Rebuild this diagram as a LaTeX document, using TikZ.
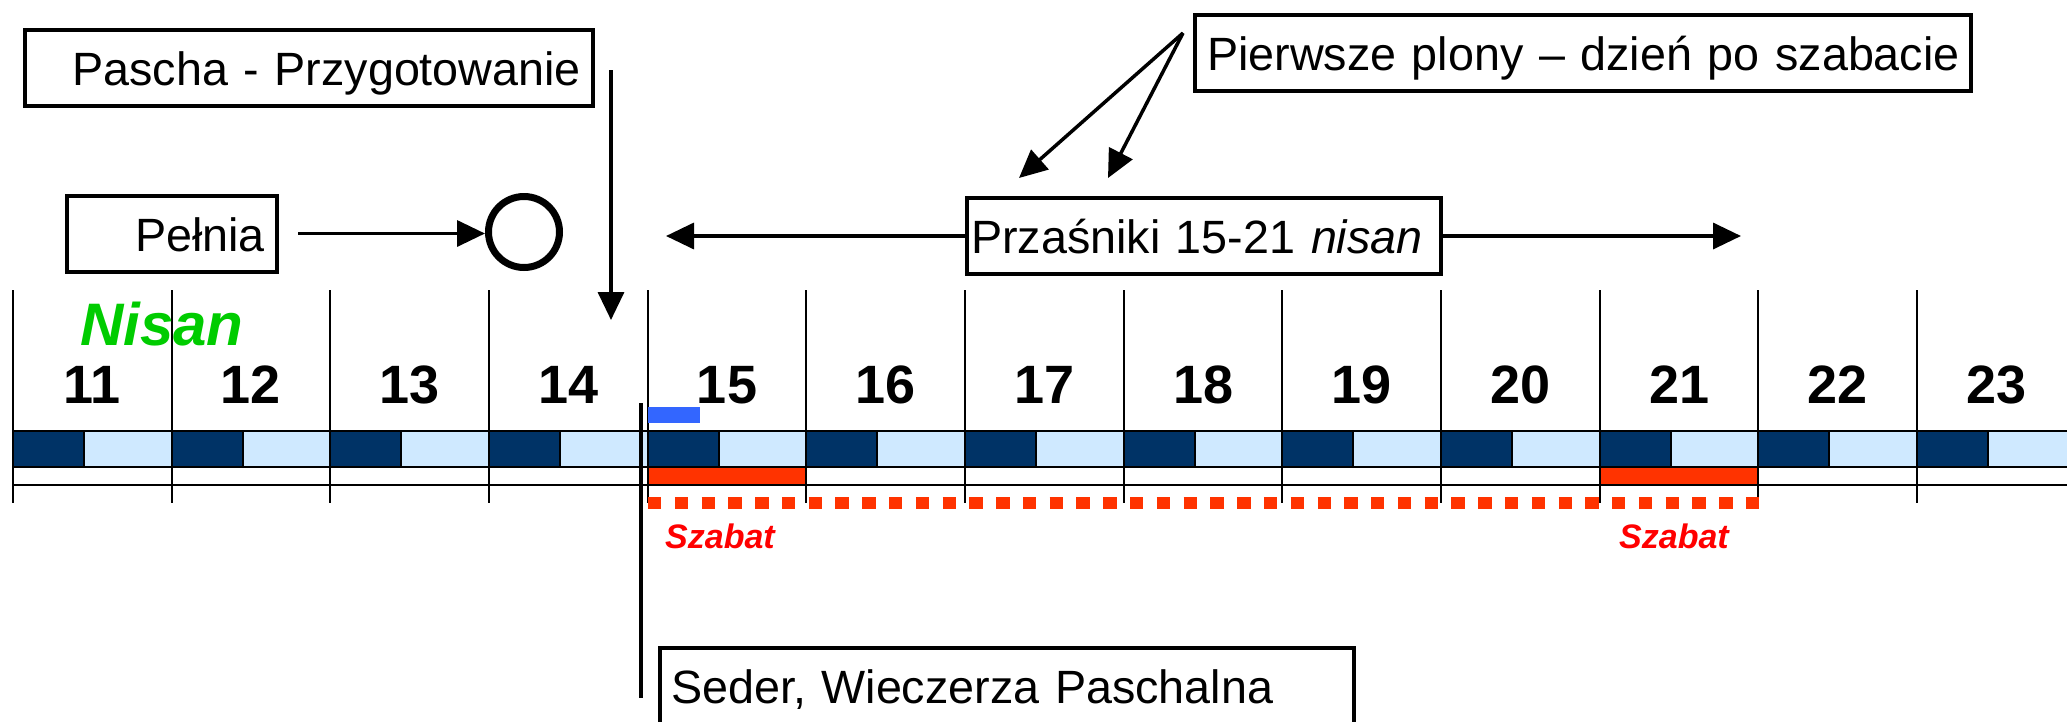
\documentclass[tikz,border=0pt]{standalone}
\usepackage{fontspec}
\setmainfont{Liberation Sans}
\usetikzlibrary{arrows.meta}
\definecolor{darkcell}{HTML}{003366}
\definecolor{lightcell}{HTML}{CFE9FF}
\definecolor{redbar}{HTML}{FF3300}
\definecolor{redtext}{HTML}{FF0000}
\definecolor{bluebar}{HTML}{3366FF}
\definecolor{nisangreen}{HTML}{00CC00}
\begin{document}
\begin{tikzpicture}[x=1pt,y=-1pt,
  box/.style={draw, line width=4pt, minimum height=76pt, text height=35pt, text depth=0pt,
    inner ysep=0pt, font=\fontsize{46.7}{56}\selectfont},
  arr/.style={line width=3.5pt, -{Triangle[length=28pt,width=26pt]}},
  gridline/.style={line width=2pt},
  barline/.style={line width=2.5pt},
  num/.style={anchor=base, inner sep=0pt, font=\bfseries\fontsize{54}{60}\selectfont},
  szabat/.style={anchor=base, inner sep=0pt, text=redtext, font=\bfseries\itshape\fontsize{34}{40}\selectfont}]
\useasboundingbox (0,0) rectangle (2067,721);

% day bar cells
\foreach \k in {0,...,12} {
  \pgfmathsetmacro\xa{13+158.67*\k}
  \fill[darkcell] (\xa,431) rectangle (\xa+71,467);
  \fill[lightcell] (\xa+71,431) rectangle (\xa+158.67,467);
  \draw[gridline] (\xa+71,431) -- (\xa+71,467);
}
% sabbath bars
\fill[redbar] (648,468) rectangle (807,484);
\fill[redbar] (1600,468) rectangle (1759,484);
% horizontal lines
\draw[barline] (13,431) -- (2067,431);
\draw[barline] (13,467) -- (2067,467);
\draw[barline] (13,485) -- (2067,485);
% grid lines and numbers
\foreach \k in {0,...,12} {
  \pgfmathsetmacro\xa{13+158.67*\k}
  \pgfmathtruncatemacro\n{11+\k}
  \draw[gridline] (\xa,290) -- (\xa,503);
  \node[num] (d\n) at (\xa+79.33,403) {\n};
}
% dotted unleavened-bread line
\draw[redbar, line width=12pt, dash pattern=on 13.4pt off 13.38pt] (648,503) -- (1760,503);
% small blue bar
\fill[bluebar] (648,407) rectangle (700,423);
% Seder line
\draw[line width=4pt] (641,403) -- (641,698);

\node[anchor=base west, inner sep=0pt, text=nisangreen, font=\bfseries\itshape\fontsize{60}{70}\selectfont] (nisan) at (80,345) {Nisan};

\node[szabat] (sz1) at (720,548) {Szabat};
\node[szabat] (sz2) at (1674,548) {Szabat};

% boxes
\node[box, text width=544pt, inner xsep=12pt, align=right] (pascha) at (309,68) {\mbox{Pascha - Przygotowanie}};
\node[box, text width=186pt, inner xsep=12pt, align=right] (pelnia) at (172,233.5) {\mbox{Pełnia}};
\node[box, text width=752pt, inner xsep=12pt, align=left] (pierwsze) at (1583,52.5) {\mbox{Pierwsze plony – dzień po szabacie}};
\node[box, text width=466pt, inner xsep=4pt, align=left] (prz) at (1204,236) {\mbox{Przaśniki 15-21 \textit{nisan}}};
\node[box, text width=672pt, inner xsep=11pt, align=left] (seder) at (1007,686) {\mbox{Seder, Wieczerza Paschalna}};

% full moon
\node[circle, draw, line width=7pt, minimum size=71pt, inner sep=0pt] (full) at (524,232) {};

% connectors
\draw[arr, shorten <=19pt] (pelnia.east) -- (pelnia.east -| full.west);
\coordinate (pa1) at (611,70);
\coordinate (pa2) at (611,320);
\draw[arr] (pa1) -- (pa2);
\coordinate (pl) at (666,236);
\coordinate (pr) at (1741,236);
\draw[arr] (prz.west) -- (pl);
\draw[arr] (prz.east) -- (pr);
\coordinate (pf) at (1183,33);
\coordinate (pt1) at (1019,178);
\coordinate (pt2) at (1108,178);
\draw[arr] (pf) -- (pt1);
\draw[arr] (pf) -- (pt2);
\end{tikzpicture}
\end{document}
